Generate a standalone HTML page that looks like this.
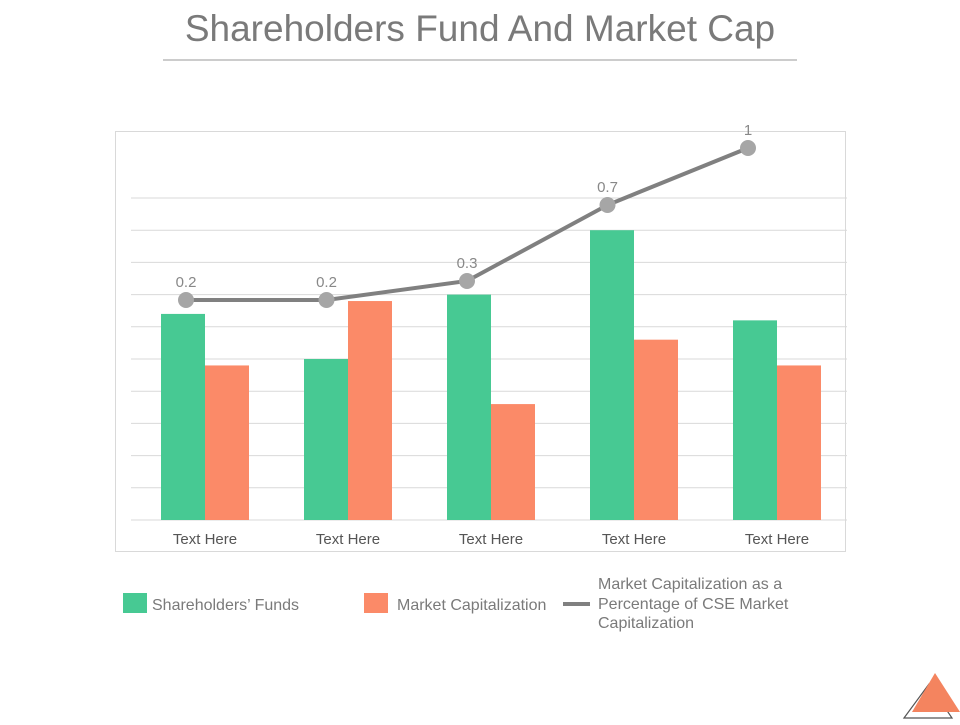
<!DOCTYPE html>
<html><head><meta charset="utf-8"><style>
body{margin:0;background:#fff;width:960px;height:720px;overflow:hidden;font-family:"Liberation Sans",sans-serif}
</style></head><body>
<svg width="960" height="720">
<text x="480" y="41" text-anchor="middle" font-size="37" fill="#7a7a7a">Shareholders Fund And Market Cap</text>
<line x1="163" y1="60" x2="797" y2="60" stroke="#999" stroke-width="1"/>
<rect x="115.5" y="131.5" width="730" height="420" fill="none" stroke="#d9d9d9"/>
<g id="grid"></g>
<g id="bars"></g>
<g id="line"></g>
<g id="xlab"></g>
<g>
<rect x="123" y="593" width="24" height="20" fill="#47c993"/>
<text x="152" y="610" font-size="16" fill="#7a7a7a">Shareholders’ Funds</text>
<rect x="364" y="593" width="24" height="20" fill="#fb8a68"/>
<text x="397" y="610" font-size="16" fill="#7a7a7a">Market Capitalization</text>
<line x1="563" y1="604" x2="590" y2="604" stroke="#808080" stroke-width="4"/>
<text font-size="16" fill="#7a7a7a"><tspan x="598" y="589">Market Capitalization as a</tspan><tspan x="598" y="609">Percentage of CSE Market</tspan><tspan x="598" y="628">Capitalization</tspan></text>
</g>
<g>
<polygon points="904,718 929,684 952,718" fill="none" stroke="#555" stroke-width="1.2"/>
<polygon points="935,673 960,712 912,712" fill="#f4845f"/>
</g>
</svg>
<script>
const categories=["Text Here","Text Here","Text Here","Text Here","Text Here"];
const funds=[6.4,5.0,7.0,9.0,6.2];
const marketCap=[4.8,6.8,3.6,5.6,4.8];
const pct=[0.2,0.2,0.3,0.7,1];
const pctLabels=["0.2","0.2","0.3","0.7","1"];
const NS="http://www.w3.org/2000/svg";
function yBar(v){return 520-v*32.2;}
function yPct(v){return 338-v*190;}
function xC(i){return 205+i*143;}
function xP(i){return 186+i*140.5;}
function mk(tag,attrs,parent){const e=document.createElementNS(NS,tag);for(const k in attrs)e.setAttribute(k,attrs[k]);document.getElementById(parent).appendChild(e);return e;}
for(let g=0;g<=10;g++){const y=yBar(g);
const l=mk('line',{x1:131,x2:847,y1:y,y2:y,stroke:'#d9d9d9','stroke-width':1},'grid');

}
categories.forEach((c,i)=>{
const b1=mk('rect',{x:xC(i)-44,y:yBar(funds[i]),width:44,height:520-yBar(funds[i]),fill:'#47c993'},'bars');


const b2=mk('rect',{x:xC(i),y:yBar(marketCap[i]),width:44,height:520-yBar(marketCap[i]),fill:'#fb8a68'},'bars');


const t=mk('text',{x:xC(i),y:544,'text-anchor':'middle','font-size':15,fill:'#555'},'xlab');t.textContent=c;


});
const pl=mk('polyline',{points:pct.map((v,i)=>xP(i)+','+yPct(v)).join(' '),fill:'none',stroke:'#808080','stroke-width':4},'line');


pct.forEach((v,i)=>{
const c=mk('circle',{cx:xP(i),cy:yPct(v),r:8,fill:'#a6a6a6'},'line');


const t=mk('text',{x:xP(i),y:yPct(v)-13,'text-anchor':'middle','font-size':15,fill:'#888'},'line');t.textContent=pctLabels[i];


});
</script>
</body></html>
